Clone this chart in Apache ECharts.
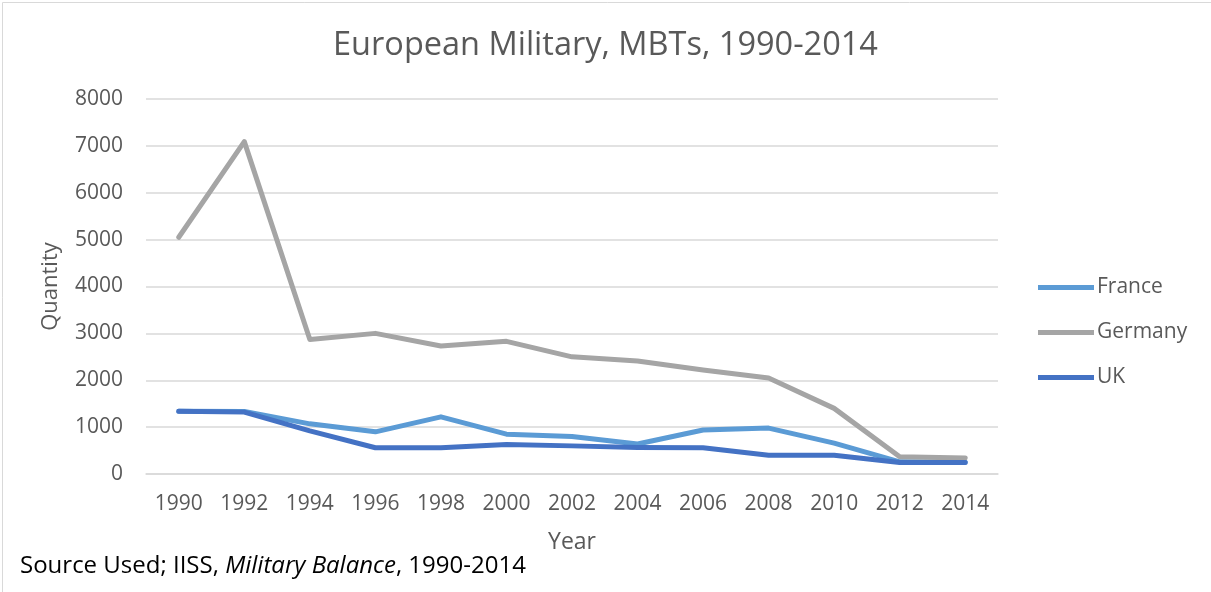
<!DOCTYPE html>
<html>
<head>
<meta charset="utf-8">
<script src="https://cdn.jsdelivr.net/npm/echarts@6/dist/echarts.min.js"></script>
<style>
html, body { margin: 0; padding: 0; background: #fff; }
#chart { width: 1211px; height: 592px; }
</style>
</head>
<body>
<div id="chart"></div>
<script>
// data
var years = ['1990', '1992', '1994', '1996', '1998', '2000', '2002', '2004', '2006', '2008', '2010', '2012', '2014'];
var france = [1340, 1335, 1070, 900, 1220, 850, 800, 640, 940, 980, 660, 260, 250];
var germany = [5050, 7090, 2870, 3000, 2730, 2830, 2500, 2410, 2220, 2050, 1400, 370, 340];
var uk = [1340, 1320, 920, 560, 560, 630, 600, 565, 560, 400, 400, 245, 245];
var yTicks = [0, 1000, 2000, 3000, 4000, 5000, 6000, 7000, 8000];

var fontName = 'Open Sans';
var grey = '#595959';

function lineSeries(name, data, color) {
	return {
		name : name,
		type : 'line',
		data : data,
		showSymbol : false,
		symbol : 'none',
		lineStyle : {
			width : 5,
			color : color,
			cap : 'round',
			join : 'round'
		},
		itemStyle : { color : color }
	};
}

var myChart = echarts.init(document.getElementById('chart'));
var options = {
	animation : false,
	textStyle : { fontFamily : fontName },
	title : {
		text : 'European Military, MBTs, 1990-2014',
		left : 'center',
		top : 24,
		textStyle : {
			fontFamily : fontName,
			fontSize : 32.5,
			fontWeight : 'normal',
			color : grey
		}
	},
	legend : {
		orient : 'vertical',
		left : 1033,
		top : 272,
		itemWidth : 56,
		itemHeight : 10,
		itemGap : 24,
		icon : 'path://M0,0 L56,0 L56,5 L0,5 Z',
		data : ['France', 'Germany', 'UK'],
		textStyle : { fontFamily : fontName, fontSize : 21, color : grey, padding : [0, 0, 0, -2] }
	},
	grid : {
		left : 146,
		right : 213,
		top : 99,
		bottom : 118
	},
	xAxis : [ {
		type : 'category',
		data : years,
		boundaryGap : true,
		name : 'Year',
		nameLocation : 'middle',
		nameGap : 57,
		nameTextStyle : { fontFamily : fontName, fontSize : 23, color : grey },
		axisLine : { lineStyle : { color : '#d9d9d9', width : 1.5 } },
		axisTick : { show : false },
		axisLabel : { fontFamily : fontName, fontSize : 21, color : grey, margin : 20 }
	} ],
	yAxis : [ {
		type : 'value',
		min : yTicks[0],
		max : yTicks[yTicks.length - 1],
		interval : 1000,
		name : 'Quantity',
		nameLocation : 'middle',
		nameGap : 84,
		nameTextStyle : { fontFamily : fontName, fontSize : 22, color : grey },
		axisLine : { show : false },
		axisTick : { show : false },
		axisLabel : {
			fontFamily : fontName,
			fontSize : 21,
			color : grey,
			margin : 23,
			formatter : function(v) { return String(v); }
		},
		splitLine : { lineStyle : { color : '#d9d9d9', width : 1.5 } }
	} ],
	graphic : [ {
		type : 'rect',
		left : 0,
		top : 0,
		shape : { width : 1210, height : 591 },
		style : { fill : 'none', stroke : '#d9d9d9', lineWidth : 1 },
		silent : true
	}, {
		type : 'text',
		left : 20,
		top : 554,
		style : {
			text : '{n|Source Used; IISS, }{i|Military Balance}{n|, 1990-2014}',
			rich : {
				n : { fontFamily : fontName, fontSize : 24, fill : '#000' },
				i : { fontFamily : fontName, fontSize : 24, fontStyle : 'italic', fill : '#000' }
			}
		}
	} ],
	series : [
		lineSeries('France', france, '#5b9bd5'),
		lineSeries('Germany', germany, '#a5a5a5'),
		lineSeries('UK', uk, '#4472c4')
	]
};
myChart.setOption(options);
</script>
</body>
</html>
